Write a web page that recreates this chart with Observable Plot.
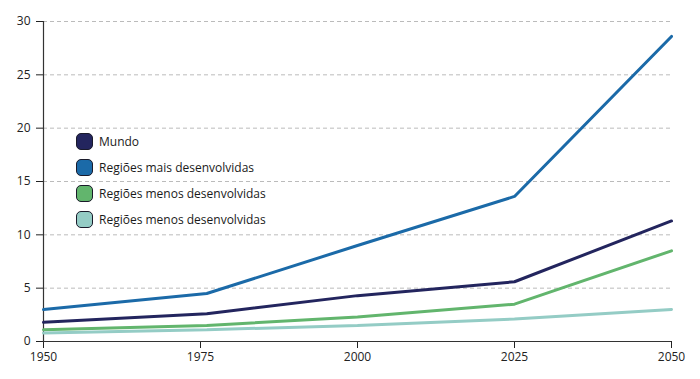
<!DOCTYPE html>
<html><head><meta charset="utf-8">
<script src="https://cdn.jsdelivr.net/npm/d3@7"></script>
<script src="https://cdn.jsdelivr.net/npm/@observablehq/plot@0.6"></script>
<style>
body{margin:0;background:#fff;font-family:"Open Sans",sans-serif;}
#wrap{position:relative;width:700px;height:379px;}
#chart svg text{font-size:12px !important;font-family:"Open Sans",sans-serif !important;fill:#222;}
#legend{position:absolute;left:76px;top:129px;font-size:12px;color:#1a1a1a;}
.row{display:flex;align-items:center;height:25.8px;}
.sw{width:15px;height:15px;border-radius:5px;border:1.5px solid #1a1a2a;margin-right:6px;box-sizing:content-box;}
</style></head><body>
<div id="wrap"><div id="chart"></div><div id="legend"></div></div>
<script>
const years = [1950, 1976, 2000, 2025, 2050];
const xTicks = [1950, 1975, 2000, 2025, 2050];
const yTicks = [0, 5, 10, 15, 20, 25, 30];
const seriesNames = ["Mundo", "Regiões mais desenvolvidas", "Regiões menos desenvolvidas", "Regiões menos desenvolvidas "];
const seriesLabels = ["Mundo", "Regiões mais desenvolvidas", "Regiões menos desenvolvidas", "Regiões menos desenvolvidas"];
const colors = ["#23255e", "#1b6aa8", "#62b56d", "#94ccc5"];
const mundo = [1.8, 2.6, 4.3, 5.6, 11.3];
const maisDesenv = [3.0, 4.5, 9.0, 13.6, 28.6];
const menosDesenv = [1.1, 1.5, 2.3, 3.5, 8.5];
const menosDesenv2 = [0.8, 1.1, 1.5, 2.1, 3.0];

const all = [mundo, maisDesenv, menosDesenv, menosDesenv2];
const data = [];
all.forEach((vals, i) => vals.forEach((v, j) => data.push({s: seriesNames[i], year: years[j], v})));

const plot = Plot.plot({
  width: 700, height: 379,
  marginLeft: 43, marginRight: 29, marginTop: 21, marginBottom: 38,
  style: {fontFamily: "Open Sans, sans-serif", fontSize: "12px", color: "#222", background: "#fff"},
  x: {domain: [1950, 2050], ticks: xTicks, tickFormat: d => String(d), label: null, tickSize: 0},
  y: {domain: [0, 30], ticks: yTicks, label: null, tickSize: 0},
  color: {domain: seriesNames, range: colors},
  marks: [
    Plot.gridY(yTicks.filter(d => d > 0), {stroke: "#bbb", strokeOpacity: 1, strokeDasharray: "4,3", strokeWidth: 1}),
    Plot.axisX({ticks: xTicks, tickFormat: d => String(d), tickSize: 7, tickPadding: 4, stroke: "#222", fontSize: 12, label: null}),
    Plot.axisY({ticks: yTicks, tickSize: 7, tickPadding: 6, stroke: "#222", fontSize: 12, label: null}),
    Plot.ruleY([0], {stroke: "#333", strokeWidth: 1.2}),
    Plot.ruleX([1950], {stroke: "#333", strokeWidth: 1.2}),
    Plot.line(data, {x: "year", y: "v", z: "s", stroke: "s", strokeWidth: 3, strokeLinejoin: "miter"})
  ]
});
document.getElementById("chart").appendChild(plot);

const lg = document.getElementById("legend");
seriesLabels.forEach((name, i) => {
  const r = document.createElement("div"); r.className = "row";
  const sw = document.createElement("div"); sw.className = "sw"; sw.style.background = colors[i];
  const t = document.createElement("span"); t.textContent = name;
  r.appendChild(sw); r.appendChild(t); lg.appendChild(r);
});
</script>
</body></html>
